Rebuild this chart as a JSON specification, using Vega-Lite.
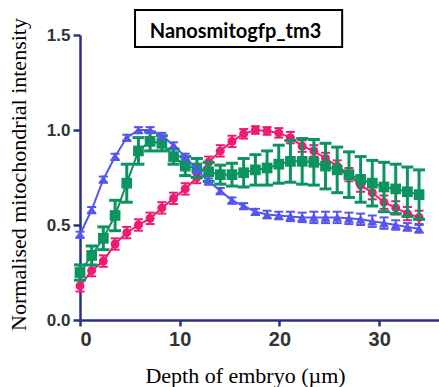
{
  "$schema": "https://vega.github.io/schema/vega-lite/v6.json",
  "width": 359,
  "height": 285,
  "autosize": "none",
  "padding": {"left": 80, "top": 35, "right": 0, "bottom": 67},
  "background": "white",
  "config": {
    "view": {"stroke": null},
    "axis": {
      "grid": false,
      "domainColor": "#2b3080",
      "domainWidth": 2.5,
      "tickColor": "#2b3080",
      "tickWidth": 2.5,
      "labelFont": "Liberation Sans",
      "labelFontWeight": "bold",
      "labelColor": "#333333",
      "titleFont": "Liberation Serif",
      "titleFontWeight": "normal",
      "titleFontSize": 22,
      "titleColor": "#000000"
    }
  },
  "data": {
    "values": [
      {"s": "pink", "x": 0, "y": 0.18, "e": 0.03},
      {"s": "pink", "x": 1.17, "y": 0.26, "e": 0.03},
      {"s": "pink", "x": 2.34, "y": 0.31, "e": 0.03},
      {"s": "pink", "x": 3.52, "y": 0.4, "e": 0.03},
      {"s": "pink", "x": 4.69, "y": 0.46, "e": 0.03},
      {"s": "pink", "x": 5.86, "y": 0.5, "e": 0.03},
      {"s": "pink", "x": 7.03, "y": 0.535, "e": 0.03},
      {"s": "pink", "x": 8.21, "y": 0.59, "e": 0.03},
      {"s": "pink", "x": 9.38, "y": 0.64, "e": 0.03},
      {"s": "pink", "x": 10.55, "y": 0.69, "e": 0.03},
      {"s": "pink", "x": 11.72, "y": 0.75, "e": 0.03},
      {"s": "pink", "x": 12.9, "y": 0.83, "e": 0.03},
      {"s": "pink", "x": 14.07, "y": 0.89, "e": 0.03},
      {"s": "pink", "x": 15.24, "y": 0.94, "e": 0.03},
      {"s": "pink", "x": 16.41, "y": 0.98, "e": 0.025},
      {"s": "pink", "x": 17.59, "y": 1.0, "e": 0.02},
      {"s": "pink", "x": 18.76, "y": 0.995, "e": 0.02},
      {"s": "pink", "x": 19.93, "y": 0.985, "e": 0.025},
      {"s": "pink", "x": 21.1, "y": 0.96, "e": 0.03},
      {"s": "pink", "x": 22.28, "y": 0.915, "e": 0.03},
      {"s": "pink", "x": 23.45, "y": 0.89, "e": 0.03},
      {"s": "pink", "x": 24.62, "y": 0.85, "e": 0.03},
      {"s": "pink", "x": 25.79, "y": 0.81, "e": 0.03},
      {"s": "pink", "x": 26.97, "y": 0.765, "e": 0.035},
      {"s": "pink", "x": 28.14, "y": 0.71, "e": 0.035},
      {"s": "pink", "x": 29.31, "y": 0.67, "e": 0.035},
      {"s": "pink", "x": 30.48, "y": 0.62, "e": 0.035},
      {"s": "pink", "x": 31.66, "y": 0.59, "e": 0.035},
      {"s": "pink", "x": 32.83, "y": 0.56, "e": 0.035},
      {"s": "pink", "x": 34, "y": 0.54, "e": 0.035},
      {"s": "green", "x": 0, "y": 0.25, "e": 0.04},
      {"s": "green", "x": 1.17, "y": 0.34, "e": 0.05},
      {"s": "green", "x": 2.34, "y": 0.43, "e": 0.06},
      {"s": "green", "x": 3.52, "y": 0.55, "e": 0.08},
      {"s": "green", "x": 4.69, "y": 0.72, "e": 0.1},
      {"s": "green", "x": 5.86, "y": 0.89, "e": 0.07},
      {"s": "green", "x": 7.03, "y": 0.94, "e": 0.05},
      {"s": "green", "x": 8.21, "y": 0.93, "e": 0.04},
      {"s": "green", "x": 9.38, "y": 0.86, "e": 0.04},
      {"s": "green", "x": 10.55, "y": 0.81, "e": 0.05},
      {"s": "green", "x": 11.72, "y": 0.8, "e": 0.05},
      {"s": "green", "x": 12.9, "y": 0.78, "e": 0.05},
      {"s": "green", "x": 14.07, "y": 0.765, "e": 0.05},
      {"s": "green", "x": 15.24, "y": 0.765, "e": 0.06},
      {"s": "green", "x": 16.41, "y": 0.775, "e": 0.075},
      {"s": "green", "x": 17.59, "y": 0.79, "e": 0.08},
      {"s": "green", "x": 18.76, "y": 0.8, "e": 0.09},
      {"s": "green", "x": 19.93, "y": 0.82, "e": 0.1},
      {"s": "green", "x": 21.1, "y": 0.835, "e": 0.11},
      {"s": "green", "x": 22.28, "y": 0.835, "e": 0.12},
      {"s": "green", "x": 23.45, "y": 0.83, "e": 0.12},
      {"s": "green", "x": 24.62, "y": 0.81, "e": 0.12},
      {"s": "green", "x": 25.79, "y": 0.79, "e": 0.12},
      {"s": "green", "x": 26.97, "y": 0.765, "e": 0.12},
      {"s": "green", "x": 28.14, "y": 0.74, "e": 0.12},
      {"s": "green", "x": 29.31, "y": 0.72, "e": 0.12},
      {"s": "green", "x": 30.48, "y": 0.7, "e": 0.13},
      {"s": "green", "x": 31.66, "y": 0.69, "e": 0.13},
      {"s": "green", "x": 32.83, "y": 0.675, "e": 0.13},
      {"s": "green", "x": 34, "y": 0.66, "e": 0.13},
      {"s": "blue", "x": 0, "y": 0.45, "e": 0.015},
      {"s": "blue", "x": 1.17, "y": 0.58, "e": 0.015},
      {"s": "blue", "x": 2.34, "y": 0.74, "e": 0.015},
      {"s": "blue", "x": 3.52, "y": 0.86, "e": 0.015},
      {"s": "blue", "x": 4.69, "y": 0.96, "e": 0.015},
      {"s": "blue", "x": 5.86, "y": 1.0, "e": 0.015},
      {"s": "blue", "x": 7.03, "y": 1.0, "e": 0.015},
      {"s": "blue", "x": 8.21, "y": 0.97, "e": 0.015},
      {"s": "blue", "x": 9.38, "y": 0.92, "e": 0.015},
      {"s": "blue", "x": 10.55, "y": 0.86, "e": 0.015},
      {"s": "blue", "x": 11.72, "y": 0.79, "e": 0.015},
      {"s": "blue", "x": 12.9, "y": 0.73, "e": 0.015},
      {"s": "blue", "x": 14.07, "y": 0.68, "e": 0.015},
      {"s": "blue", "x": 15.24, "y": 0.63, "e": 0.015},
      {"s": "blue", "x": 16.41, "y": 0.6, "e": 0.015},
      {"s": "blue", "x": 17.59, "y": 0.57, "e": 0.015},
      {"s": "blue", "x": 18.76, "y": 0.555, "e": 0.02},
      {"s": "blue", "x": 19.93, "y": 0.55, "e": 0.02},
      {"s": "blue", "x": 21.1, "y": 0.545, "e": 0.025},
      {"s": "blue", "x": 22.28, "y": 0.54, "e": 0.025},
      {"s": "blue", "x": 23.45, "y": 0.54, "e": 0.03},
      {"s": "blue", "x": 24.62, "y": 0.54, "e": 0.03},
      {"s": "blue", "x": 25.79, "y": 0.54, "e": 0.03},
      {"s": "blue", "x": 26.97, "y": 0.535, "e": 0.03},
      {"s": "blue", "x": 28.14, "y": 0.53, "e": 0.03},
      {"s": "blue", "x": 29.31, "y": 0.52, "e": 0.03},
      {"s": "blue", "x": 30.48, "y": 0.51, "e": 0.03},
      {"s": "blue", "x": 31.66, "y": 0.5, "e": 0.025},
      {"s": "blue", "x": 32.83, "y": 0.49, "e": 0.02},
      {"s": "blue", "x": 34, "y": 0.48, "e": 0.02}
    ]
  },
  "layer": [
    {
      "data": {"values": [{"label": "Nanosmitogfp_tm3"}]},
      "mark": {"type": "rect", "fill": "white", "stroke": "black", "strokeWidth": 2, "clip": false},
      "encoding": {
        "x": {
          "datum": 5.52,
          "type": "quantitative",
          "title": "Depth of embryo (µm)",
          "scale": {"domain": [0, 36], "nice": false, "zero": false},
          "axis": {
            "values": [0, 10, 20, 30],
            "title": "Depth of embryo (µm)",
            "labelFontSize": 20,
            "tickSize": 6,
            "labelPadding": 3,
            "titleX": 165,
            "titleY": 62,
            "titleBaseline": "alphabetic",
            "titleAnchor": "middle"
          }
        },
        "x2": {"datum": 26.29},
        "y": {
          "datum": 1.632,
          "type": "quantitative",
          "title": "Normalised mitochondrial intensity",
          "scale": {"domain": [0, 1.5], "nice": false},
          "axis": {
            "values": [0, 0.5, 1, 1.5],
            "format": ".1f",
            "title": "Normalised mitochondrial intensity",
            "labelFontSize": 17,
            "tickSize": 7,
            "labelPadding": 3,
            "titleX": -62,
            "titleY": 139,
            "titleBaseline": "middle",
            "titleAngle": -90,
            "titleAnchor": "middle"
          }
        },
        "y2": {"datum": 1.437}
      }
    },
    {
      "data": {"values": [{"label": "Nanosmitogfp_tm3"}]},
      "mark": {"type": "text", "font": "Lato", "fontWeight": "bold", "fontSize": 20, "baseline": "alphabetic", "align": "center", "color": "black", "clip": false},
      "encoding": {
        "x": {"datum": 15.6, "type": "quantitative", "title": "Depth of embryo (µm)"},
        "y": {"datum": 1.484, "type": "quantitative", "title": "Normalised mitochondrial intensity"},
        "text": {"field": "label", "type": "nominal"}
      }
    },
    {
      "transform": [{"filter": "datum.s === 'pink'"}],
      "encoding": {
        "x": {"field": "x", "type": "quantitative", "title": "Depth of embryo (µm)"},
        "y": {"field": "y", "type": "quantitative", "title": "Normalised mitochondrial intensity"}
      },
      "layer": [
        {"mark": {"type": "errorbar", "ticks": true, "color": "#ef1a72", "thickness": 2, "size": 9, "opacity": 1}, "encoding": {"yError": {"field": "e"}}},
        {"mark": {"type": "line", "color": "#ef1a72", "strokeWidth": 2}},
        {"mark": {"type": "point", "shape": "circle", "filled": true, "color": "#ef1a72", "size": 80, "opacity": 1}}
      ]
    },
    {
      "transform": [{"filter": "datum.s === 'green'"}],
      "encoding": {
        "x": {"field": "x", "type": "quantitative", "title": "Depth of embryo (µm)"},
        "y": {"field": "y", "type": "quantitative", "title": "Normalised mitochondrial intensity"}
      },
      "layer": [
        {"mark": {"type": "errorbar", "ticks": true, "color": "#0b9460", "thickness": 3, "size": 12, "opacity": 1}, "encoding": {"yError": {"field": "e"}}},
        {"mark": {"type": "line", "color": "#0b9460", "strokeWidth": 2}},
        {"mark": {"type": "point", "shape": "square", "filled": true, "color": "#0b9460", "size": 115, "opacity": 1}}
      ]
    },
    {
      "transform": [{"filter": "datum.s === 'blue'"}],
      "encoding": {
        "x": {"field": "x", "type": "quantitative", "title": "Depth of embryo (µm)"},
        "y": {"field": "y", "type": "quantitative", "title": "Normalised mitochondrial intensity"}
      },
      "layer": [
        {"mark": {"type": "errorbar", "ticks": true, "color": "#5656ee", "thickness": 2, "size": 9, "opacity": 1}, "encoding": {"yError": {"field": "e"}}},
        {"mark": {"type": "line", "color": "#5656ee", "strokeWidth": 2}},
        {"mark": {"type": "point", "shape": "triangle-up", "filled": true, "color": "#5656ee", "size": 100, "opacity": 1}}
      ]
    }
  ]
}
